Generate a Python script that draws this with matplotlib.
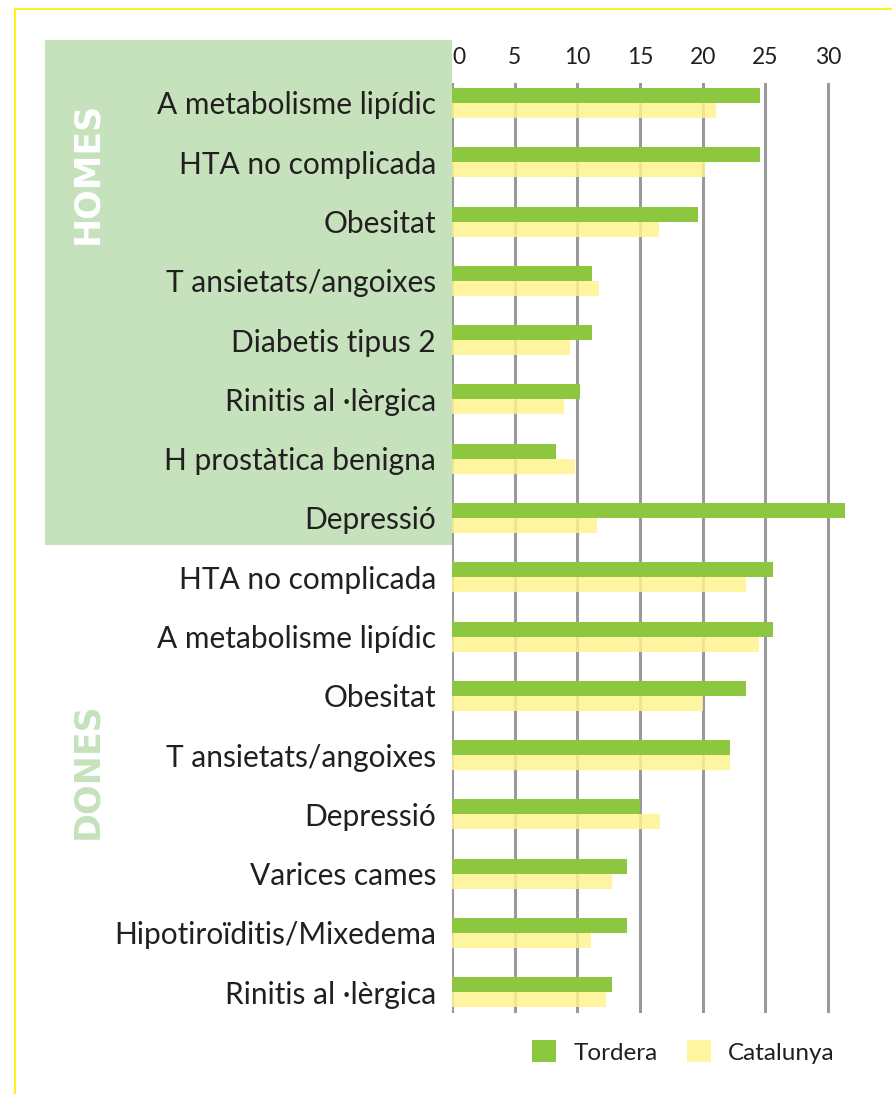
import numpy as np
import matplotlib.pyplot as plt
from matplotlib.patches import Rectangle
from matplotlib.lines import Line2D

categories = ["A metabolisme lipídic", "HTA no complicada", "Obesitat",
              "T ansietats/angoixes", "Diabetis tipus 2", "Rinitis al ·lèrgica",
              "H prostàtica benigna", "Depressió",
              "HTA no complicada", "A metabolisme lipídic", "Obesitat",
              "T ansietats/angoixes", "Depressió", "Varices cames",
              "Hipotiroïditis/Mixedema", "Rinitis al ·lèrgica"]
tordera = [24.6, 24.6, 19.6, 11.2, 11.2, 10.2, 8.3, 31.4,
           25.6, 25.6, 23.5, 22.2, 15.0, 14.0, 14.0, 12.8]
catalunya = [21.1, 20.2, 16.5, 11.7, 9.4, 8.9, 9.8, 11.6,
             23.5, 24.5, 20.0, 22.2, 16.6, 12.8, 11.1, 12.3]
ticks = [0, 5, 10, 15, 20, 25, 30]
series = ["Tordera", "Catalunya"]

W, H = 892, 1094
green = "#8dc63f"
yellow = "#fff38f"
pale = "#c5e2bc"
grey = "#9a9a9e"
ink = "#231f20"
plt.rcParams['font.family'] = ['Lato', 'DejaVu Sans']

fig = plt.figure(figsize=(W/100, H/100), dpi=100)

# frame lines and group panel, in pixel coords
fig.add_artist(Line2D([15/W, 15/W], [0, 1 - 9/H], color="#fff200", lw=1.3, zorder=-2))
fig.add_artist(Line2D([15/W, 1], [1 - 9/H, 1 - 9/H], color="#fff200", lw=1.3, zorder=-2))
fig.add_artist(Rectangle((45/W, 1 - 545/H), (452 - 45)/W, (545 - 40)/H,
                         facecolor=pale, edgecolor="none", zorder=-1))
fig.text(87/W, 1 - 173/H, "HOMES", rotation=90, color="white", fontsize=25,
         fontweight="bold", family="DejaVu Sans", ha="center", va="center")
fig.text(87/W, 1 - 771/H, "DONES", rotation=90, color=pale, fontsize=25,
         fontweight="bold", family="DejaVu Sans", ha="center", va="center")

px = 12.53
ax = fig.add_axes([452/W, 1 - 1013/H, 33*px/W, (1013 - 83)/H])
ax.patch.set_alpha(0)
y = np.arange(len(categories))
h = 0.253
ax.barh(y + h/2, catalunya, height=h, color=yellow, alpha=0.85, zorder=3, label=series[1])
ax.barh(y - h/2, tordera, height=h, color=green, zorder=4, label=series[0])
for t in ticks:
    ax.axvline(t, color=grey, lw=2.2, zorder=2)
ax.set_xlim(0, 33)
ax.set_ylim(len(categories) - 1 + 0.35, -0.337)
ax.set_yticks(y)
ax.set_yticklabels(categories, fontsize=21.5, color=ink)
ax.xaxis.tick_top()
ax.set_xticks(ticks)
ax.set_xticklabels([str(t) for t in ticks], fontsize=16.5, color=ink)
ax.tick_params(length=0, axis="y", pad=11.5)
ax.tick_params(length=0, axis="x", pad=11)
ax.get_xticklabels()[0].set_ha("left")
ax.get_xticklabels()[0].set_x(0.3)
for s in ax.spines.values():
    s.set_visible(False)

handles, labels = ax.get_legend_handles_labels()
fig.legend(handles[::-1], labels[::-1], loc="center left", bbox_to_anchor=(520/W, 1 - 1052/H),
           ncol=2, frameon=False, fontsize=17.5, handlelength=1.0, handleheight=1.0,
           handletextpad=0.7, columnspacing=1.2, labelcolor=ink, borderpad=0)

plt.savefig("out.png", dpi=100)
